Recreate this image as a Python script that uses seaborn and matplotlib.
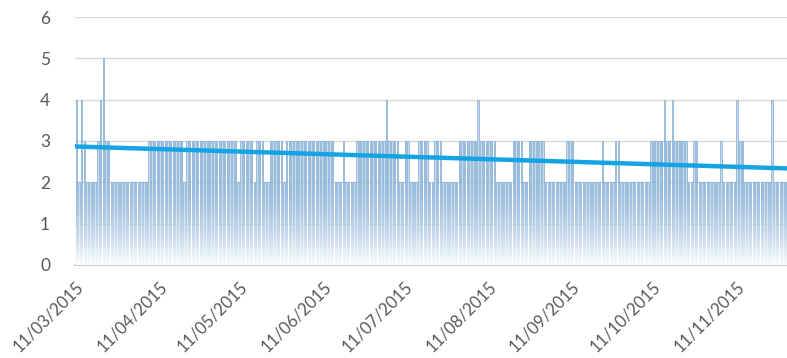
import matplotlib
matplotlib.use('Agg')
import matplotlib.pyplot as plt
import numpy as np
import pandas as pd
import seaborn as sns

# ------------------------------------------------------------
# data: one value per day, 11/03/2015 - 29/11/2015
# ------------------------------------------------------------
start_date = '2015-03-11'
end_date = '2015-11-29'

vals_mar = [4, 2, 4, 3, 2, 2, 2, 2, 3, 4, 5, 3, 3, 2, 2, 2, 2, 2, 2, 2, 2]
vals_apr = [2, 2, 2, 2, 2, 2, 3, 3, 3, 3, 3, 3, 3, 3, 3, 3, 3, 3, 3, 2,
            3, 3, 3, 3, 3, 3, 3, 3, 3, 3]
vals_may = [3, 3, 3, 3, 3, 3, 3, 3, 3, 2, 3, 3, 3, 3, 3, 2, 3, 3, 3, 2,
            2, 3, 3, 3, 3, 3, 2, 3, 3, 3, 3]
vals_jun = [3, 3, 3, 3, 3, 3, 3, 3, 3, 3, 3, 3, 3, 3, 2, 2, 2, 3, 2, 2,
            2, 2, 3, 3, 3, 3, 3, 3, 3, 3]
vals_jul = [3, 3, 3, 4, 3, 3, 3, 3, 2, 2, 3, 3, 2, 2, 2, 3, 3, 3, 3, 2,
            2, 3, 3, 3, 2, 2, 2, 2, 2, 2, 3]
vals_aug = [3, 3, 3, 3, 3, 3, 4, 3, 3, 3, 3, 3, 3, 2, 2, 2, 2, 2, 2, 3,
            3, 3, 3, 2, 2, 3, 3, 3, 3, 3, 3]
vals_sep = [2, 2, 2, 2, 2, 2, 2, 2, 3, 3, 3, 2, 2, 2, 2, 2, 2, 2, 2, 2,
            2, 3, 2, 2, 2, 2, 3, 3, 2, 2]
vals_oct = [2, 2, 2, 2, 2, 2, 2, 2, 2, 3, 3, 3, 3, 3, 4, 3, 3, 4, 3, 3,
            3, 3, 3, 2, 2, 3, 3, 2, 2, 2, 2]
vals_nov = [2, 2, 2, 2, 3, 2, 2, 2, 2, 2, 4, 3, 3, 2, 2, 2, 2, 2, 2, 2,
            2, 2, 2, 4, 2, 2, 2, 2, 2]

tick_dates = ['2015-03-11', '2015-04-11', '2015-05-11', '2015-06-11', '2015-07-11',
              '2015-08-11', '2015-09-11', '2015-10-11', '2015-11-11']

values = vals_mar + vals_apr + vals_may + vals_jun + vals_jul + vals_aug + vals_sep + vals_oct + vals_nov
dates = pd.date_range(start_date, end_date, freq='D')
df = pd.DataFrame({'date': dates, 'day': np.arange(len(dates)), 'value': values})

# ------------------------------------------------------------
# plot
# ------------------------------------------------------------
sns.set_style('white')
plt.rcParams['font.family'] = ['Lato', 'DejaVu Sans']

fig = plt.figure(figsize=(7.87, 3.58), dpi=100)
ax = fig.add_axes([0.0953, 0.2598, 0.9047, 0.6927])

sns.barplot(data=df, x='day', y='value', native_scale=True, width=0.55,
            color='#cbdbe8', edgecolor='#6ea2d3', linewidth=0.45,
            saturation=1, errorbar=None, ax=ax, zorder=2)

xmin, xmax = -0.5, len(df) - 0.5
ax.set_xlim(xmin, xmax)
ax.set_ylim(0, 6)

# white fade towards the bottom of the bars
fade = np.ones((100, 1, 4))
fade[:, 0, 3] = np.linspace(0.97, 0.0, 100) ** 1.6
ax.imshow(fade, extent=(xmin, xmax, 0, 2.0), origin='lower', aspect='auto', zorder=3)
ax.set_ylim(0, 6)

# linear trend line
sns.regplot(data=df, x='day', y='value', scatter=False, ci=None, truncate=False,
            line_kws={'color': '#14a4e4', 'linewidth': 3.2, 'zorder': 4}, ax=ax)
ax.set_xlim(xmin, xmax)

# axes styling
ax.set_yticks(range(0, 7))
ax.yaxis.grid(True, color='#d9d9d9', linewidth=1)
ax.set_axisbelow(True)
for s in ['left', 'right', 'top']:
    ax.spines[s].set_visible(False)
ax.spines['bottom'].set_color('#bfbfbf')
ax.spines['bottom'].set_linewidth(1.2)

tick_pos = [df.loc[df['date'] == pd.Timestamp(d), 'day'].iloc[0] - 0.5 for d in tick_dates]
tick_lab = [pd.Timestamp(d).strftime('%d/%m/%Y') for d in tick_dates]
ax.set_xticks(tick_pos)
ax.set_xticklabels(tick_lab, rotation=45, ha='right', rotation_mode='anchor')
ax.tick_params(axis='x', colors='#bfbfbf', length=5, width=1.2, direction='out',
               labelcolor='#595959', labelsize=12, pad=5)
ax.tick_params(axis='y', length=0, labelcolor='#595959', labelsize=12.5, pad=18)
ax.set_xlabel('')
ax.set_ylabel('')

plt.savefig('out.png', dpi=100)
